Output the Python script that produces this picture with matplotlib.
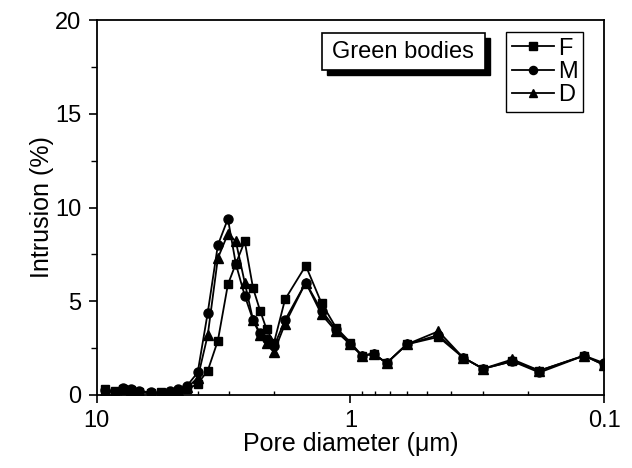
import numpy as np
import matplotlib
matplotlib.use('Agg')
import matplotlib.pyplot as plt
import matplotlib.ticker as ticker
from matplotlib.patches import Rectangle

plt.rcParams['font.family'] = ['Liberation Sans', 'DejaVu Sans']

# pore diameters (um), shared by the three samples
diam = [9.3, 8.5, 7.9, 7.3, 6.8, 6.1, 5.6, 5.15, 4.8, 4.4, 4.0, 3.65, 3.33, 3.04,
        2.83, 2.61, 2.42, 2.27, 2.14, 2.0, 1.81, 1.5, 1.3, 1.14, 1.0, 0.9, 0.81,
        0.72, 0.6, 0.45, 0.36, 0.3, 0.23, 0.18, 0.12, 0.1]

F = [0.3, 0.2, 0.3, 0.25, 0.15, 0.1, 0.15, 0.1, 0.2, 0.3, 0.6, 1.3, 2.9, 5.9,
     7.0, 8.2, 5.7, 4.5, 3.5, 2.8, 5.1, 6.9, 4.9, 3.6, 2.8, 2.1, 2.2,
     1.7, 2.7, 3.1, 2.0, 1.4, 1.8, 1.3, 2.1, 1.6]
M = [0.25, 0.15, 0.35, 0.3, 0.2, 0.15, 0.1, 0.2, 0.3, 0.5, 1.2, 4.4, 8.0, 9.4,
     7.0, 5.3, 4.0, 3.3, 3.0, 2.6, 4.0, 6.0, 4.5, 3.5, 2.7, 2.1, 2.2,
     1.7, 2.7, 3.2, 2.0, 1.4, 1.8, 1.2, 2.1, 1.7]
D = [0.2, 0.15, 0.3, 0.25, 0.15, 0.1, 0.1, 0.15, 0.2, 0.4, 0.9, 3.2, 7.3, 8.6,
     8.2, 6.0, 4.0, 3.2, 2.8, 2.3, 3.8, 6.0, 4.3, 3.4, 2.7, 2.1, 2.2,
     1.7, 2.7, 3.4, 2.0, 1.4, 1.9, 1.3, 2.1, 1.6]

fig = plt.figure(figsize=(6.32, 4.68), dpi=100)
ax = fig.add_axes([0.153, 0.156, 0.803, 0.801])

ax.plot(diam, F, '-s', color='black', ms=6, lw=1.3, label='F')
ax.plot(diam, M, '-o', color='black', ms=6.5, lw=1.3, label='M')
ax.plot(diam, D, '-^', color='black', ms=7, lw=1.3, label='D')

ax.set_xscale('log')
ax.set_xlim(10, 0.1)
ax.set_ylim(0, 20)
ax.xaxis.set_major_locator(ticker.FixedLocator([10, 1, 0.1]))
ax.xaxis.set_major_formatter(ticker.FuncFormatter(lambda v, p: f'{v:g}'))
ax.xaxis.set_minor_locator(ticker.LogLocator(base=10, subs=np.arange(2, 10)))
ax.xaxis.set_minor_formatter(ticker.NullFormatter())
ax.yaxis.set_major_locator(ticker.MultipleLocator(5))
ax.yaxis.set_minor_locator(ticker.MultipleLocator(2.5))

ax.tick_params(axis='both', which='major', direction='out', length=6, width=1.2,
               labelsize=17, pad=5)
ax.tick_params(axis='x', which='minor', direction='in', length=3, width=1)
ax.tick_params(axis='y', which='minor', direction='out', length=4, width=1)
for s in ax.spines.values():
    s.set_linewidth(1.3)

ax.set_xlabel('Pore diameter (\u03bcm)', fontsize=18, labelpad=0)
ax.set_ylabel('Intrusion (%)', fontsize=18, labelpad=1)

leg = ax.legend(loc='upper right', bbox_to_anchor=(0.959, 0.969), borderaxespad=0,
                fancybox=False, edgecolor='black', framealpha=1, fontsize=17,
                handlelength=1.8, handletextpad=0.15, labelspacing=0.05,
                borderpad=0.25, markerscale=0.9)
leg.get_frame().set_linewidth(1)

# label box with drop shadow
bx, by, bw, bh = 0.443, 0.867, 0.322, 0.098
ax.add_patch(Rectangle((bx + 0.01, by - 0.014), bw, bh, transform=ax.transAxes,
                       fc='black', ec='black', zorder=5))
ax.add_patch(Rectangle((bx, by), bw, bh, transform=ax.transAxes,
                       fc='white', ec='black', lw=1.2, zorder=6))
ax.text(bx + bw / 2, by + bh / 2, 'Green bodies', transform=ax.transAxes,
        ha='center', va='center', fontsize=17, color='black', zorder=7)

fig.savefig('out.png', dpi=100)
